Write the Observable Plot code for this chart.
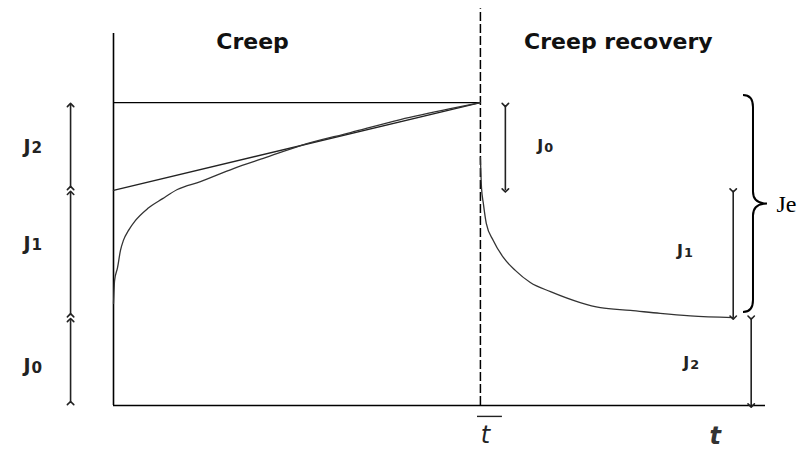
<!DOCTYPE html>
<html>
<head>
<meta charset="utf-8">
<script src="https://cdn.jsdelivr.net/npm/d3@7"></script>
<script src="https://cdn.jsdelivr.net/npm/@observablehq/plot@0.6"></script>
<style>
  html, body { margin: 0; padding: 0; background: #fff; }
</style>
</head>
<body>
<div id="chart"></div>
<script>
// Creep compliance J(t) under constant stress, then recovery after unloading at t̄.
// Time is in units of the loading time t̄; compliance in units of the total J0 + J1 + J2.
const tBar = 1;
const tMax = 1.777;
const J0 = 0.29;   // instantaneous (elastic) compliance
const J1 = 0.42;   // retarded (delayed elastic) compliance
const J2 = 0.29;   // viscous flow contribution
const Jtotal = J0 + J1 + J2;

// Creep branch
const creepT = [0, 0.003, 0.011, 0.019, 0.027, 0.041, 0.060, 0.093, 0.134, 0.174, 0.237, 0.327, 0.414, 0.510, 0.646, 0.782, 0.918, 1.0];
const creepJ = [0.337, 0.413, 0.455, 0.512, 0.545, 0.578, 0.611, 0.650, 0.683, 0.713, 0.739, 0.782, 0.818, 0.858, 0.901, 0.944, 0.980, 1.0];

// Recovery branch
const recoveryT = [1.0, 1.003, 1.008, 1.016, 1.035, 1.063, 1.095, 1.136, 1.191, 1.272, 1.327, 1.409, 1.490, 1.572, 1.689];
const recoveryJ = [0.818, 0.719, 0.667, 0.601, 0.545, 0.488, 0.446, 0.406, 0.376, 0.340, 0.323, 0.314, 0.304, 0.296, 0.29];

// Steady-state asymptote of the creep branch, extrapolated back to t = 0
const tangentT = [0, tBar];
const tangentJ = [J0 + J1, Jtotal];

// Bracket positions along t
const leftArrowX = -0.117;
const arrowX = { J0: 1.068, J1: 1.689, J2: 1.738 };

// Component labels
const labelName = ["J", "J", "J", "J", "J", "J"];
const labelSub  = ["2", "1", "0", "0", "1", "2"];
const labelX    = [-0.226, -0.226, -0.226, 1.171, 1.552, 1.569];
const labelY    = [0.855, 0.535, 0.13, 0.858, 0.512, 0.142];
const labelSize = [19, 19, 19, 16, 16, 16];

const phaseTitles = ["Creep", "Creep recovery"];
const phaseX = [0.379, 1.376];

const creep = creepT.map((t, i) => ({t, J: creepJ[i]}));
const recovery = recoveryT.map((t, i) => ({t, J: recoveryJ[i]}));
const tangent = tangentT.map((t, i) => ({t, J: tangentJ[i]}));
const labels = labelName.map((n, i) => ({n, s: labelSub[i], x: labelX[i], y: labelY[i], size: labelSize[i]}));

const inset = 0.008;
const arrows = [
  {x: leftArrowX, y1: inset, y2: J0 - inset},
  {x: leftArrowX, y1: J0 + inset, y2: J0 + J1 - inset},
  {x: leftArrowX, y1: J0 + J1 + inset, y2: Jtotal - inset},
  {x: arrowX.J0, y1: Jtotal - inset, y2: Jtotal - J0},
  {x: arrowX.J1, y1: J2 + J1, y2: J2},
  {x: arrowX.J2, y1: J2, y2: 0}
];

const font = "DejaVu Sans, Verdana, sans-serif";

const chart = Plot.plot({
  width: 811,
  height: 450,
  marginLeft: 113,
  marginRight: 46,
  marginTop: 0,
  marginBottom: 45,
  x: {domain: [0, tMax], axis: null},
  y: {domain: [0, 1.337], axis: null},
  style: {background: "#fff", fontFamily: font, overflow: "visible"},
  marks: [
    // axes
    Plot.ruleX([0], {y1: 0, y2: 1.228, stroke: "#000", strokeWidth: 1.6}),
    Plot.ruleY([0], {x1: 0, x2: tMax, stroke: "#000", strokeWidth: 1.6}),
    // unloading time
    Plot.ruleX([tBar], {y1: 0, y2: 1.31, stroke: "#000", strokeWidth: 1.5, strokeDasharray: "9,3"}),
    // compliance reached at t̄
    Plot.ruleY([Jtotal], {x1: 0, x2: tBar, stroke: "#000", strokeWidth: 1.3}),
    Plot.line(tangent, {x: "t", y: "J", stroke: "#222", strokeWidth: 1.4}),
    Plot.line(creep, {x: "t", y: "J", stroke: "#333", strokeWidth: 1.3, curve: "monotone-x"}),
    Plot.line(recovery, {x: "t", y: "J", stroke: "#333", strokeWidth: 1.3, curve: "monotone-x"}),
    // brackets
    Plot.link(arrows, {x1: "x", x2: "x", y1: "y1", y2: "y2", stroke: "#222", strokeWidth: 1.6, markerStart: "arrow", markerEnd: "arrow"}),
    // labels
    Plot.text(labels, {x: "x", y: "y", text: "n", textAnchor: "end", fontSize: "size", fontWeight: "bold", fill: "#222"}),
    Plot.text(labels, {x: "x", y: "y", text: "s", textAnchor: "start", dx: 1, dy: 2, fontSize: d => d.size * 0.8, fontWeight: "bold", fill: "#222"}),
    Plot.text(phaseTitles, {x: (d, i) => phaseX[i], y: 1.201, text: d => d, fontSize: 22, fontWeight: "bold", fill: "#111"}),
    Plot.text(["Je"], {x: 1.807, y: 0.663, text: d => d, textAnchor: "start", fontSize: 24, fontFamily: "Liberation Serif, Times New Roman, serif", fill: "#000"}),
    // time labels: t̄ (bar drawn as a short rule) and t
    Plot.text(["t"], {x: tBar, y: -0.098, dx: 5, text: d => d, fontSize: 24, fontStyle: "italic", fill: "#222"}),
    Plot.ruleY([-0.036], {x1: tBar - 0.008, x2: tBar + 0.06, stroke: "#222", strokeWidth: 1.4}),
    Plot.text(["t"], {x: 1.640, y: -0.102, text: d => d, fontSize: 24, fontStyle: "italic", fontWeight: "bold", fill: "#333"})
  ]
});

// Curly brace grouping J0 + J1 as the recoverable compliance Je
{
  const X = chart.scale("x"), Y = chart.scale("y");
  const px = v => X.apply ? X.apply(v) : 113 + (v / tMax) * 652;
  const py = v => Y.apply ? Y.apply(v) : 405 - (v / 1.337) * 405;
  const x0 = px(1.717), x1 = x0 + 10, x2 = x0 + 24;
  const yt = py(Jtotal + 0.023), yb = py(J2 + 0.017), ym = (yt + yb) / 2, r = 12;
  const p = d3.path();
  p.moveTo(x0, yt);
  p.quadraticCurveTo(x1, yt, x1, yt + r);
  p.lineTo(x1, ym - r);
  p.quadraticCurveTo(x1, ym, x2, ym);
  p.quadraticCurveTo(x1, ym, x1, ym + r);
  p.lineTo(x1, yb - r);
  p.quadraticCurveTo(x1, yb, x0, yb);
  d3.select(chart).append("path")
    .attr("d", p.toString())
    .attr("fill", "none")
    .attr("stroke", "#000")
    .attr("stroke-width", 2);
}

document.getElementById("chart").appendChild(chart);
</script>
</body>
</html>
